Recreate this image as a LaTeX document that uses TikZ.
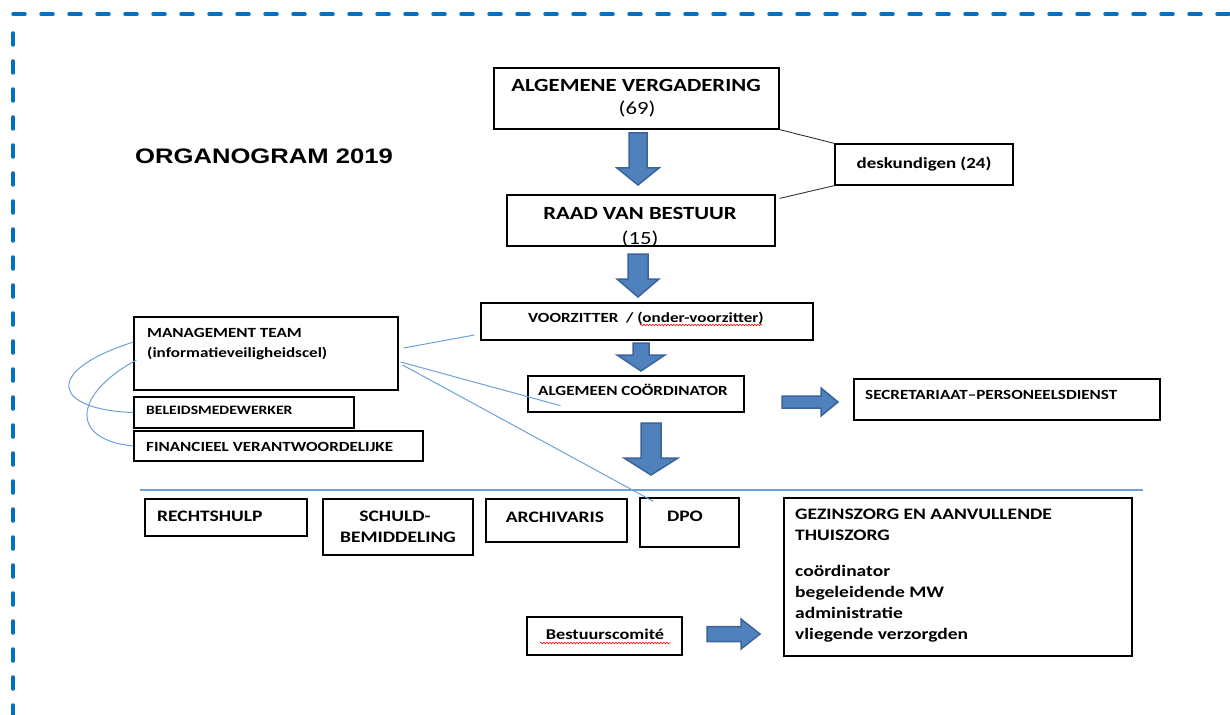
\documentclass[tikz,border=0pt]{standalone}
\usepackage{fontspec}
\setmainfont{Carlito}[FakeStretch=1.22]
\newfontfamily\titlefont{Liberation Sans}[FakeStretch=1.22]
\usetikzlibrary{calc,decorations.pathmorphing}
\definecolor{framecol}{HTML}{0070C0}
\definecolor{afill}{HTML}{4F81BD}
\definecolor{aedge}{HTML}{3A649A}
\definecolor{thincol}{RGB}{110,160,215}
\newcommand\fsz[1]{\fontsize{#1}{#1}\selectfont}
\newcommand\blockdn[6]{% cx, ytop, yhead, ytip, sw, hw
  \filldraw[barrow] (#1-#5,#2) -- (#1+#5,#2) -- (#1+#5,#3) -- (#1+#6,#3) -- (#1,#4) -- (#1-#6,#3) -- (#1-#5,#3) -- cycle;}
\newcommand\blockrt[6]{% cy, xleft, xhead, xtip, sw, hw
  \filldraw[barrow] (#2,#1-#5) -- (#3,#1-#5) -- (#3,#1-#6) -- (#4,#1) -- (#3,#1+#6) -- (#3,#1+#5) -- (#2,#1+#5) -- cycle;}
\tikzset{
  box/.style={draw=black, line width=1.2pt, rectangle, inner sep=0pt},
  txt/.style={inner sep=0pt, font=\bfseries},
  rtxt/.style={inner sep=0pt},
  barrow/.style={fill=afill, draw=aedge, line width=1.5pt, line join=miter},
  thinline/.style={draw=thincol, line width=1pt},
  greyline/.style={draw=black!80, line width=0.9pt},
  wavy/.style={draw=red, line width=0.6pt, decorate, decoration={snake, amplitude=0.8pt, segment length=3pt}}
}
\begin{document}
\begin{tikzpicture}[x=1pt,y=-1pt]
\useasboundingbox (0,0) rectangle (1230,714);
% frame
\draw[framecol, line width=3.5pt, line cap=round, dash pattern=on 12pt off 16pt] (13,14) -- (1240,14);
\draw[framecol, line width=3.5pt, line cap=round, dash pattern=on 12pt off 16pt] (13,33) -- (13,730);
% title
\node[inner sep=0pt, anchor=base west, font=\titlefont\bfseries\fsz{21}] (title) at (135,164) {ORGANOGRAM 2019};
% boxes
\node[box, minimum width=285pt, minimum height=61pt] (av) at (636.5,98.5) {};
\node[box, minimum width=178pt, minimum height=41pt] (desk) at (924,164.5) {};
\node[box, minimum width=268pt, minimum height=51pt] (rvb) at (641,220.5) {};
\node[box, minimum width=332pt, minimum height=37pt] (voorz) at (647,321.5) {};
\node[box, minimum width=216pt, minimum height=36pt] (ac) at (636,394) {};
\node[box, minimum width=306pt, minimum height=41pt] (sec) at (1007,399.5) {};
\node[box, minimum width=264pt, minimum height=73pt] (mt) at (266,353.5) {};
\node[box, minimum width=220pt, minimum height=31pt] (bel) at (244,412.5) {};
\node[box, minimum width=289pt, minimum height=30pt] (fin) at (278.5,446) {};
\node[box, minimum width=162pt, minimum height=37pt] (rech) at (226,517.5) {};
\node[box, minimum width=150pt, minimum height=56pt] (schuld) at (398,527) {};
\node[box, minimum width=141pt, minimum height=43pt] (arch) at (556.5,520.5) {};
\node[box, minimum width=99pt, minimum height=49pt] (dpo) at (689.5,522.5) {};
\node[box, minimum width=348pt, minimum height=158pt] (gez) at (958,577) {};
\node[box, minimum width=155pt, minimum height=38pt] (best) at (604.5,636) {};
% texts
\node[txt, anchor=base, font=\bfseries\fsz{18.6}] (avt) at (636,92) {ALGEMENE VERGADERING};
\node[rtxt, anchor=base, font=\fsz{18.6}] (avn) at (637,115) {(69)};
\node[txt, anchor=base, font=\bfseries\fsz{15.5}] (deskt) at (924,168) {deskundigen (24)};
\node[txt, anchor=base, font=\bfseries\fsz{18.6}] (rvbt) at (640,219) {RAAD VAN BESTUUR};
\node[rtxt, anchor=base, font=\fsz{18.6}] (rvbn) at (640,244) {(15)};
\node[txt, anchor=base west, font=\bfseries\fsz{14}] (voorzt) at (528,322) {VOORZITTER\ \ / (onder-voorzitter)};
\node[txt, anchor=base west, font=\bfseries\fsz{14}] (act) at (538,395) {ALGEMEEN COÖRDINATOR};
\node[txt, anchor=base west, font=\bfseries\fsz{14}] (sect) at (865,399) {SECRETARIAAT–PERSONEELSDIENST};
\node[txt, anchor=base west, font=\bfseries\fsz{14}] (mtt) at (147,337) {MANAGEMENT TEAM};
\node[txt, anchor=base west, font=\bfseries\fsz{14}] (mtt2) at (147,357) {(informatieveiligheidscel)};
\node[txt, anchor=base west, font=\bfseries\fsz{12.8}] (belt) at (146,414) {BELEIDSMEDEWERKER};
\node[txt, anchor=base west, font=\bfseries\fsz{14}] (fint) at (146,451) {FINANCIEEL VERANTWOORDELIJKE};
\node[txt, anchor=base west, font=\bfseries\fsz{16}] (recht) at (157,521) {RECHTSHULP};
\node[txt, anchor=base, font=\bfseries\fsz{16}] (schuldt1) at (395,521) {SCHULD-};
\node[txt, anchor=base, font=\bfseries\fsz{16}] (schuldt2) at (398,542) {BEMIDDELING};
\node[txt, anchor=base, font=\bfseries\fsz{16}] (archt) at (555,522) {ARCHIVARIS};
\node[txt, anchor=base, font=\bfseries\fsz{16}] (dpot) at (685,521) {DPO};
\node[txt, anchor=base west, font=\bfseries\fsz{16}] (gez1) at (795,519) {GEZINSZORG EN AANVULLENDE};
\node[txt, anchor=base west, font=\bfseries\fsz{16}] (gez2) at (795,540) {THUISZORG};
\node[txt, anchor=base west, font=\bfseries\fsz{16}] (gez3) at (795,576) {coördinator};
\node[txt, anchor=base west, font=\bfseries\fsz{16}] (gez4) at (795,597) {begeleidende MW};
\node[txt, anchor=base west, font=\bfseries\fsz{16}] (gez5) at (795,618) {administratie};
\node[txt, anchor=base west, font=\bfseries\fsz{16}] (gez6) at (795,639) {vliegende verzorgden};
\node[txt, anchor=base, font=\bfseries\fsz{15}] (bestt) at (605,639) {Bestuurscomité};
% spell-check underlines
\draw[wavy] (640,325) -- (762,325);
\draw[wavy] (540,643) -- (670,643);
% block arrows
\blockdn{638}{133}{168}{185}{9}{21}
\blockdn{638}{254}{279}{297}{10}{21}
\blockdn{641}{343}{355}{371}{8}{24}
\blockdn{651}{423}{458}{475}{10}{27}
\blockrt{402}{782}{821}{838}{6}{14}
\blockrt{634}{707}{741}{760}{7.5}{15}
% grey connectors to deskundigen
\draw[greyline] (av.south east) -- (desk.north west);
\draw[greyline] (desk.south west) -- ([xshift=4pt,yshift=-4pt]rvb.north east);
% thin blue connectors
\draw[thinline] ([xshift=5pt,yshift=5.5pt]mt.east) -- ([xshift=-6pt,yshift=-13.5pt]voorz.west);
\draw[thinline] ([xshift=2pt,yshift=-8.5pt]mt.east) -- ([xshift=33pt,yshift=7pt]ac.south west);
\draw[thinline] ([xshift=4pt,yshift=-11.5pt]mt.east) -- ([xshift=14pt,yshift=-4pt]dpo.north west);
\draw[thinline] ([yshift=11.5pt]mt.west) .. controls (40,372) and (55,410) .. (bel.west);
\draw[thinline] ([xshift=3pt,yshift=-6.5pt]mt.west) .. controls (72,395) and (70,440) .. (fin.west);
% separator
\draw[thinline, line width=1.2pt] (140,490) -- (1143,490);
\end{tikzpicture}
\end{document}
